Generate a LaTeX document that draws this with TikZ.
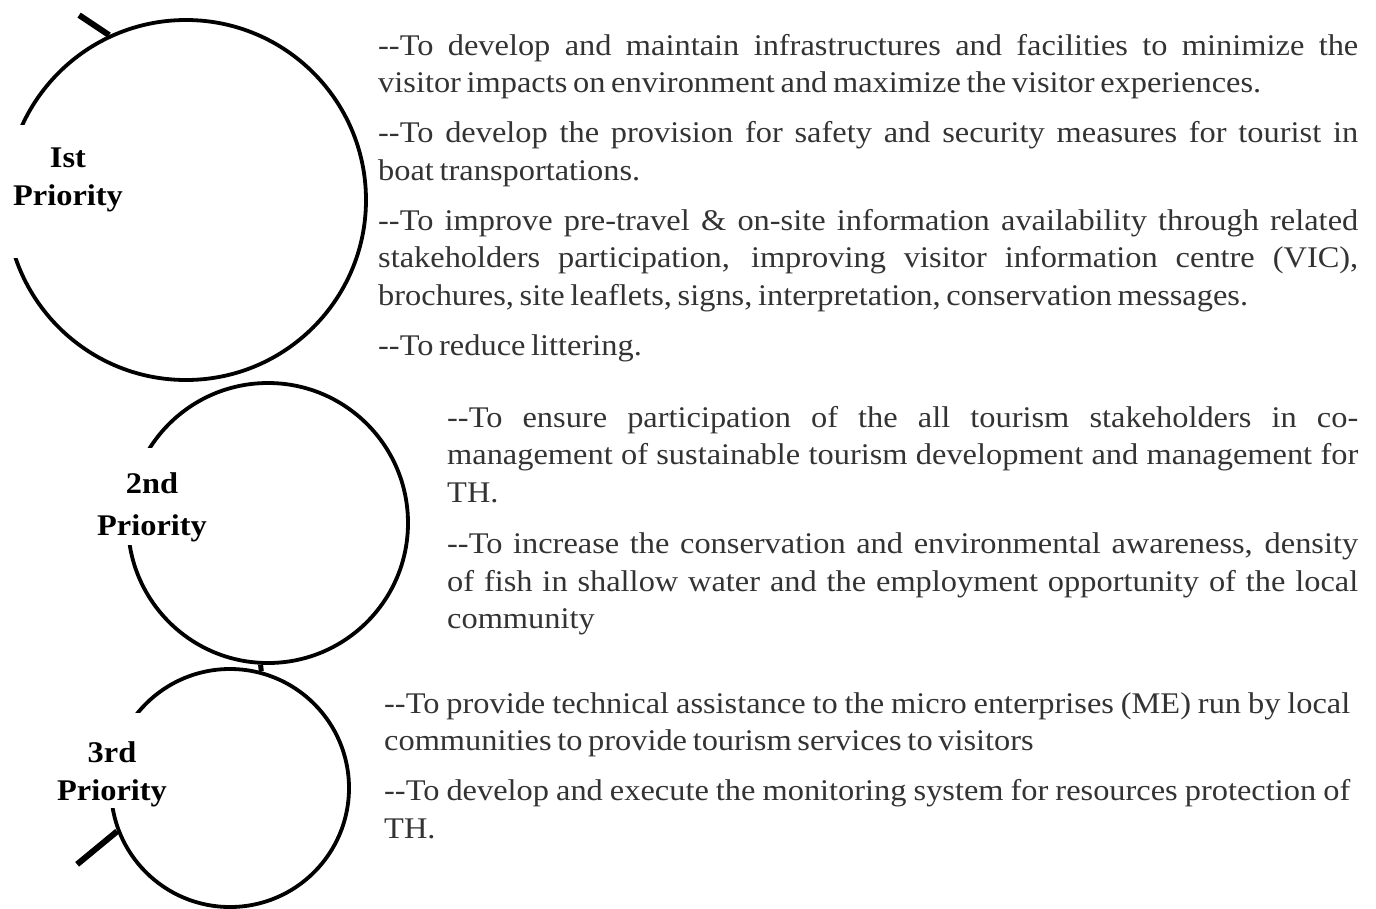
\documentclass[tikz,border=0pt]{standalone}
\usepackage{fontspec}
\setmainfont{Liberation Serif}[FakeStretch=1.08, WordSpace=0.7]
\newcommand{\aimfont}{\fontsize{30}{37.5}\selectfont}
\newcommand{\priofont}{\fontsize{30}{38}\selectfont\bfseries}
\setlength{\parindent}{0pt}
\tolerance=9999
\hyphenpenalty=10000
\tikzset{
  ring/.style={draw, circle, line width=3.8pt, inner sep=0pt},
  stub/.style={line width=6pt},
  prio/.style={fill=white, align=center, inner sep=0pt, font=\priofont},
  aims/.style={anchor=north west, inner sep=0pt, align=justify, text=black!80,
    font={\aimfont\setlength{\parskip}{12.5pt}}}
}
\begin{document}
\begin{tikzpicture}[x=1pt,y=-1pt]
\useasboundingbox (0,0) rectangle (1376,908);
\node[ring, minimum size=360pt] (ring1) at (186,200) {};
\node[ring, minimum size=280pt] (ring2) at (268,523) {};
\node[ring, minimum size=238pt] (ring3) at (230,788) {};
\draw[stub] (ring1.115) -- ++(-30,-20);
\draw[stub] (ring3.201) -- ++(-40,33);
\draw[line width=5pt] (ring2.267) -- (ring3.75);
\node[prio, minimum width=136pt, minimum height=133pt, text depth=28pt] (prio1) at (68,191) {Ist\\Priority};
\node[prio, minimum width=116pt, minimum height=97pt, text height=85pt, text depth=6pt] (prio2) at (152,496) {2nd\\[4pt]Priority};
\node[prio, minimum width=116pt, minimum height=95pt, text height=86pt, text depth=6pt] (prio3) at (112,760) {3rd\\Priority};
\node[aims, text width=980pt] (aims1) at (378,34) {-{}-To develop and maintain infrastructures and facilities to minimize the\linebreak visitor impacts on environment and maximize the visitor experiences.\par
-{}-To develop the provision for safety and security measures for tourist in\linebreak boat transportations.\par
-{}-To improve pre-travel \& on-site information availability through related\linebreak stakeholders participation, improving visitor information centre (VIC),\linebreak brochures, site leaflets, signs, interpretation, conservation messages.\par
-{}-To reduce littering.};
\node[aims, text width=911pt, font={\aimfont\setlength{\parskip}{14pt}}] (aims2) at (447,406) {-{}-To ensure participation of the all tourism stakeholders in co-\linebreak management of sustainable tourism development and management for\linebreak TH.\par
-{}-To increase the conservation and environmental awareness, density\linebreak of fish in shallow water and the employment opportunity of the local\linebreak community};
\node[aims, text width=966pt] (aims3) at (384,692) {-{}-To provide technical assistance to the micro enterprises (ME) run by local\linebreak communities to provide tourism services to visitors\par
-{}-To develop and execute the monitoring system for resources protection of\linebreak TH.};
\end{tikzpicture}
\end{document}
